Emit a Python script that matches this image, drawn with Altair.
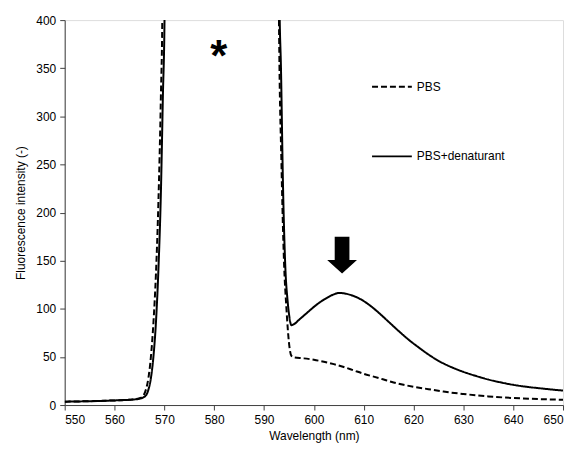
import altair as alt
import pandas as pd

# PBS (dashed)
pbs_nm = [550, 555, 560, 563, 565, 565.8, 566.3, 566.8, 567.3, 567.8, 568.3, 568.8, 569.3, 569.6,
          570.2, 580, 591.8, 593, 593.5, 594, 594.5, 595, 595.5, 596, 598, 600, 602, 604, 606, 608,
          610, 612, 614, 616, 618, 620, 623, 626, 630, 635, 640, 645, 650]
pbs_val = [3.5, 4, 4.8, 5.5, 7, 10, 16, 28, 50, 85, 135, 210, 320, 410,
           2000, 2000, 2000, 400, 250, 150, 100, 65, 51, 49.5, 48.5, 47, 45, 42.5, 39.5, 36,
           32.5, 29.5, 26.5, 23.5, 21, 19, 16.5, 14, 11.5, 9, 7.3, 6.2, 5.5]

# PBS+denaturant (solid)
den_nm = [550, 555, 560, 563, 565, 566.3, 566.8, 567.3, 567.8, 568.3, 568.8, 569.3, 569.7, 570.05,
          570.6, 580, 592, 593.1, 593.4, 593.8, 594.3, 594.7, 595, 595.5, 596, 597, 598, 599, 600,
          601, 602, 603, 604, 605, 607, 609, 611, 613, 615, 617, 619, 621, 623, 625, 628, 630,
          633, 635, 638, 640, 643, 645, 648, 650]
den_val = [3.5, 4, 4.8, 5.5, 6.5, 10, 16, 28, 50, 85, 140, 220, 320, 410,
           2000, 2000, 2000, 420, 350, 230, 140, 110, 95, 83, 84, 88.5, 93, 97.5, 102,
           106, 109.5, 112.5, 115, 116.5, 115, 111, 104.5, 96, 86.5, 77, 68, 60, 52.5, 46, 38.5, 34.5,
           29.5, 26.5, 23, 21, 18.8, 17.6, 16, 15]

series_names = ["PBS", "PBS+denaturant"]

# annotations (data coordinates)
star_text = ["*"]
star_nm = [580.9]
star_val = [370.0]
arrow_nm = [605.66]
arrow_val = [155.8]

df = pd.concat([
    pd.DataFrame({"nm": pbs_nm, "val": pbs_val, "series": series_names[0], "order": range(len(pbs_nm))}),
    pd.DataFrame({"nm": den_nm, "val": den_val, "series": series_names[1], "order": range(len(den_nm))}),
])

FONT = "Liberation Sans"
FS = 12

x_scale = alt.Scale(domain=[550, 650], nice=False, zero=False)
y_scale = alt.Scale(domain=[0, 400], nice=False)

common_axis = dict(grid=False, titleFontWeight="normal", labelFontSize=FS, titleFontSize=FS,
                   labelFont=FONT, titleFont=FONT, labelColor="black", titleColor="black",
                   domainColor="#404040", tickColor="#404040", tickSize=5)

lines = alt.Chart(df).mark_line(clip=True, strokeWidth=2, color="black", interpolate="monotone").encode(
    x=alt.X("nm:Q", scale=x_scale, title="Wavelength (nm)",
            axis=alt.Axis(values=list(range(550, 651, 10)), labelPadding=5,
                          titlePadding=5, **common_axis)),
    y=alt.Y("val:Q", scale=y_scale, title="Fluorescence intensity (-)",
            axis=alt.Axis(values=list(range(0, 401, 50)), labelPadding=4,
                          titlePadding=8, **common_axis)),
    strokeDash=alt.StrokeDash("series:N",
        scale=alt.Scale(domain=series_names, range=[[6, 3], [1, 0]]),
        legend=alt.Legend(orient="none", legendX=308, legendY=46, title=None,
                          symbolType="stroke", symbolSize=1600, symbolStrokeWidth=2,
                          symbolStrokeColor="black", labelFontSize=FS, labelFont=FONT,
                          labelColor="black", labelOffset=4, rowPadding=43)),
    order="order:Q",
    detail="series:N",
)

star = alt.Chart(pd.DataFrame({"t": star_text, "nm": star_nm, "val": star_val})).mark_text(
    fontSize=44, font=FONT, fontWeight="bold", color="black", baseline="middle", dy=9
).encode(x=alt.X("nm:Q", scale=x_scale), y=alt.Y("val:Q", scale=y_scale), text="t:N")

arrow_path = "M-0.4,-1L0.4,-1L0.4,0.27L0.81,0.27L0,1L-0.81,0.27L-0.4,0.27Z"
arrow = alt.Chart(pd.DataFrame({"nm": arrow_nm, "val": arrow_val})).mark_point(
    shape=arrow_path, size=1369, filled=True, color="black", opacity=1, strokeWidth=0
).encode(x=alt.X("nm:Q", scale=x_scale), y=alt.Y("val:Q", scale=y_scale))

chart = alt.layer(lines, star, arrow).properties(
    width=501, height=387,
    autosize=alt.AutoSizeParams(type="none"),
    padding={"left": 57, "top": 11, "right": 5, "bottom": 40},
).configure_view(
    stroke="#808080", strokeWidth=1
).configure(background="white")

chart.save("out.html", embed_options={"renderer": "svg", "actions": False})
